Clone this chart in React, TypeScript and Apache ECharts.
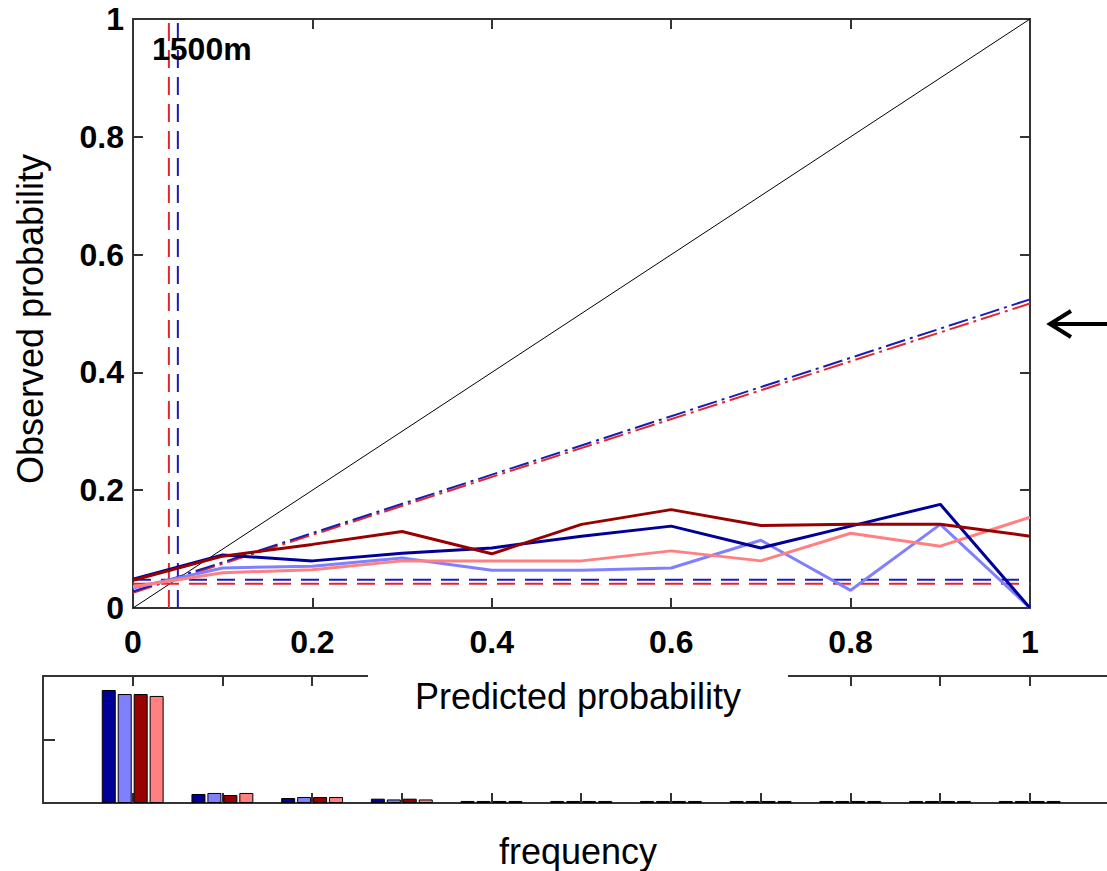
import React, { useEffect, useRef } from "react";
import * as echarts from "echarts";

// Reliability diagram data (x = predicted probability bins)
const xPoints = [0, 0.1, 0.2, 0.3, 0.4, 0.5, 0.6, 0.7, 0.8, 0.9, 1.0];
const darkBlueObs = [0.049, 0.09, 0.08, 0.093, 0.102, 0.122, 0.139, 0.102, 0.139, 0.176, 0.0];
const lightBlueObs = [0.034, 0.068, 0.071, 0.085, 0.064, 0.064, 0.068, 0.115, 0.03, 0.142, 0.0];
const darkRedObs = [0.047, 0.088, 0.108, 0.13, 0.092, 0.142, 0.167, 0.14, 0.142, 0.142, 0.122];
const pinkObs = [0.036, 0.06, 0.065, 0.08, 0.08, 0.08, 0.097, 0.08, 0.127, 0.105, 0.154];

// Climatology (base rate) values
const climBlue = 0.048;
const climRed = 0.041;
const climBlueX = 0.05;
const climRedX = 0.04;

// Regression fit line endpoints [x, y]
const fitBlue = [[0, 0.028], [1, 0.524]];
const fitRed = [[0, 0.026], [1, 0.517]];

// Frequency histogram
const histBins = [0, 0.1, 0.2, 0.3, 0.4, 0.5, 0.6, 0.7, 0.8, 0.9, 1.0];
const histTicks = [0, 0.1, 0.2, 0.3, 0.4, 0.5, 0.6, 0.7, 0.8, 0.9, 1.0];
const histDarkBlue = [0.89, 0.071, 0.039, 0.034, 0.016, 0.016, 0.016, 0.016, 0.016, 0.016, 0.016];
const histLightBlue = [0.858, 0.079, 0.047, 0.028, 0.016, 0.016, 0.016, 0.016, 0.016, 0.016, 0.016];
const histDarkRed = [0.858, 0.063, 0.047, 0.034, 0.016, 0.016, 0.016, 0.016, 0.016, 0.016, 0.016];
const histPink = [0.843, 0.079, 0.047, 0.028, 0.016, 0.016, 0.016, 0.016, 0.016, 0.016, 0.016];

const C_DB = "#000099";
const C_LB = "#8080ff";
const C_DR = "#990000";
const C_PK = "#ff8080";
const C_DASH_B = "#1c1cb0";
const C_DASH_R = "#e0282c";

const FONT = "Liberation Sans, Arial, sans-serif";

const zip = (xs: number[], ys: number[]) => xs.map((x, i) => [x, ys[i]]);

export default function App() {
  const ref = useRef<HTMLDivElement>(null);
  useEffect(() => {
    document.body.style.margin = "0";
    const chart = echarts.init(ref.current!, null, { renderer: "svg" });
    const axisLine = { show: true, onZero: false, lineStyle: { color: "#333", width: 2 } };
    const tick = (len: number) => ({ show: true, inside: true, length: len, lineStyle: { color: "#333", width: 2 } });
    const lbl = { fontSize: 32, fontWeight: "bold", color: "#000", fontFamily: FONT };
    const lineS = (name: string, data: any, color: string, width: number, type: any = "solid", z = 3) => ({
      name,
      type: "line",
      xAxisIndex: 0,
      yAxisIndex: 0,
      data,
      symbol: "none",
      z,
      lineStyle: { color, width, type },
    });
    const barS = (name: string, vals: number[], color: string) => ({
      name,
      type: "bar",
      xAxisIndex: 2,
      yAxisIndex: 2,
      data: zip(histBins, vals),
      barWidth: 14,
      barGap: "14%",
      itemStyle: { color, borderColor: "#000", borderWidth: 1 },
    });
    // histogram x range: -0.1 at left edge (x=43) to page edge (x=1107), same scale as main plot
    const histMax = -0.1 + 1064 / 897;
    const histTick = { ...tick(10), customValues: histTicks };
    chart.setOption({
      animation: false,
      grid: [
        { left: 133, top: 19, width: 897, height: 589 },
        { left: 43, top: 676, width: 1064, height: 127 },
      ],
      xAxis: [
        { gridIndex: 0, type: "value", min: 0, max: 1, interval: 0.2, position: "bottom", axisLine, axisTick: tick(10), axisLabel: { ...lbl, margin: 18 }, splitLine: { show: false } },
        { gridIndex: 0, type: "value", min: 0, max: 1, interval: 0.2, position: "top", axisLine, axisTick: tick(10), axisLabel: { show: false }, splitLine: { show: false } },
        { gridIndex: 1, type: "value", min: -0.1, max: histMax, interval: 0.1, position: "bottom", axisLine, axisTick: histTick, axisLabel: { show: false }, splitLine: { show: false } },
        { gridIndex: 1, type: "value", min: -0.1, max: histMax, interval: 0.1, position: "top", axisLine, axisTick: histTick, axisLabel: { show: false }, splitLine: { show: false } },
      ],
      yAxis: [
        { gridIndex: 0, type: "value", min: 0, max: 1, interval: 0.2, position: "left", axisLine, axisTick: tick(10), axisLabel: { ...lbl, margin: 9 }, splitLine: { show: false } },
        { gridIndex: 0, type: "value", min: 0, max: 1, interval: 0.2, position: "right", axisLine, axisTick: tick(10), axisLabel: { show: false }, splitLine: { show: false } },
        { gridIndex: 1, type: "value", min: 0, max: 1, interval: 0.5, position: "left", axisLine, axisTick: tick(12), axisLabel: { show: false }, splitLine: { show: false } },
      ],
      series: [
        lineS("diag", [[0, 0], [1, 1]], "#000", 1),
        lineS("vRed", [[climRedX, 0], [climRedX, 1]], C_DASH_R, 2, [18, 9]),
        lineS("vBlue", [[climBlueX, 0], [climBlueX, 1]], C_DASH_B, 2, [18, 9]),
        lineS("hBlue", [[0, climBlue], [1, climBlue]], C_DASH_B, 2, [18, 10]),
        lineS("hRed", [[0, climRed], [1, climRed]], C_DASH_R, 2, [18, 10]),
        lineS("fitRed", fitRed, C_DASH_R, 2, [20, 5, 3, 5]),
        lineS("fitBlue", fitBlue, C_DASH_B, 2, [20, 5, 3, 5]),
        lineS("lightBlue", zip(xPoints, lightBlueObs), C_LB, 3, "solid", 4),
        lineS("pink", zip(xPoints, pinkObs), C_PK, 3, "solid", 4),
        lineS("darkBlue", zip(xPoints, darkBlueObs), C_DB, 3, "solid", 5),
        lineS("darkRed", zip(xPoints, darkRedObs), C_DR, 3, "solid", 5),
        barS("hDB", histDarkBlue, C_DB),
        barS("hLB", histLightBlue, C_LB),
        barS("hDR", histDarkRed, C_DR),
        barS("hPK", histPink, C_PK),
      ],
      graphic: [
        { type: "text", left: 152, top: 33, z: 10, style: { text: "1500m", font: `bold 32px ${FONT}`, fill: "#000" } },
        { type: "text", x: 30, y: 319, rotation: Math.PI / 2, z: 10, style: { text: "Observed probability", font: `36px ${FONT}`, fill: "#000", textAlign: "center", textVerticalAlign: "middle" } },
        { type: "rect", shape: { x: 368, y: 664, width: 420, height: 60 }, z: 20, style: { fill: "#fff" } },
        { type: "text", x: 578, y: 696, z: 21, style: { text: "Predicted probability", font: `36px ${FONT}`, fill: "#000", textAlign: "center", textVerticalAlign: "middle" } },
        { type: "text", x: 578, y: 851, z: 21, style: { text: "frequency", font: `36px ${FONT}`, fill: "#000", textAlign: "center", textVerticalAlign: "middle" } },
        { type: "line", z: 10, shape: { x1: 1049, y1: 324, x2: 1107, y2: 324 }, style: { stroke: "#000", lineWidth: 4 } },
        { type: "polyline", z: 10, shape: { points: [[1071, 311], [1050, 324], [1071, 337]] }, style: { stroke: "#000", lineWidth: 4, fill: null } },
      ],
    });
    return () => chart.dispose();
  }, []);
  return <div ref={ref} style={{ width: 1107, height: 871 }} />;
}
